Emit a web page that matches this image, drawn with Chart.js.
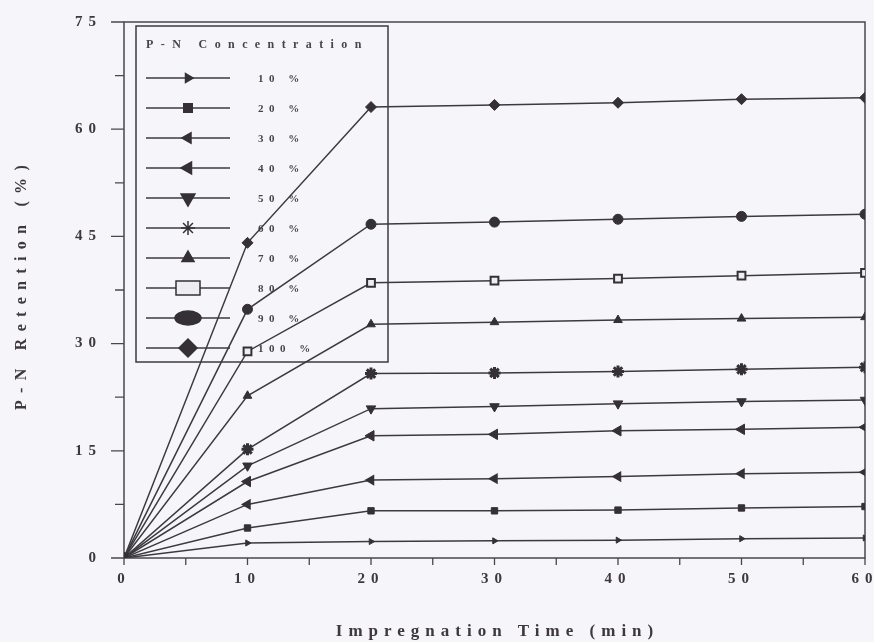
<!DOCTYPE html>
<html>
<head>
<meta charset="utf-8">
<script src="https://cdn.jsdelivr.net/npm/chart.js@4.4.1/dist/chart.umd.min.js"></script>
<style>
  html, body { margin: 0; padding: 0; background: #f6f6fa; }
  #wrap { width: 874px; height: 642px; }
</style>
</head>
<body>
<div id="wrap"><canvas id="c" width="874" height="642"></canvas></div>
<script>
// Impregnation time (min)
const times = [0, 10, 20, 30, 40, 50, 60];

// P-N retention (%) for each P-N concentration
const conc10  = [0, 2.1, 2.3, 2.4, 2.5, 2.7, 2.8];
const conc20  = [0, 4.2, 6.6, 6.6, 6.7, 7.0, 7.2];
const conc30  = [0, 7.5, 10.9, 11.1, 11.4, 11.8, 12.0];
const conc40  = [0, 10.7, 17.1, 17.3, 17.8, 18.0, 18.3];
const conc50  = [0, 12.9, 20.9, 21.2, 21.6, 21.9, 22.1];
const conc60  = [0, 15.2, 25.8, 25.9, 26.1, 26.4, 26.7];
const conc70  = [0, 22.7, 32.7, 33.0, 33.3, 33.5, 33.7];
const conc80  = [0, 28.9, 38.5, 38.8, 39.1, 39.5, 39.9];
const conc90  = [0, 34.8, 46.7, 47.0, 47.4, 47.8, 48.1];
const conc100 = [0, 44.1, 63.1, 63.4, 63.7, 64.2, 64.4];

const seriesLabels = ['10 %', '20 %', '30 %', '40 %', '50 %', '60 %', '70 %', '80 %', '90 %', '100 %'];
const seriesValues = [conc10, conc20, conc30, conc40, conc50, conc60, conc70, conc80, conc90, conc100];

const xTicks = [0, 10, 20, 30, 40, 50, 60];
const yTicks = [0, 15, 30, 45, 60, 75];

const legendTitle = 'P-N Concentration';
const xTitle = 'Impregnation Time (min)';
const yTitle = 'P-N Retention (%)';

const INK = '#353035';
const LINE = '#3c3a3e';
const SERIF = '"Liberation Serif", "DejaVu Serif", serif';

// marker look per series: plot marker and larger legend marker
const markerStyles = [
  { style: 'triangle', rot: 90,  r: 3.5, bw: 1, lr: 5,  lw: 0 },
  { style: 'rect',     rot: 0,   r: 4.5, bw: 1, lr: 6,  lw: 0 },
  { style: 'triangle', rot: 270, r: 4.5, bw: 2, lr: 6,  lw: 0 },
  { style: 'triangle', rot: 270, r: 6,   bw: 1, lr: 7,  lw: 0 },
  { style: 'triangle', rot: 180, r: 5.5, bw: 1, lr: 8,  lw: 0 },
  { style: 'star',     rot: 0,   r: 6,   bw: 3, lr: 7,  lw: 0 },
  { style: 'triangle', rot: 0,   r: 5,   bw: 1, lr: 7,  lw: 0 },
  { style: 'rect',     rot: 0,   r: 5.5, bw: 2, lr: 10, lw: 24, open: true },
  { style: 'circle',   rot: 0,   r: 5,   bw: 1, lr: 7,  lw: 26 },
  { style: 'rectRot',  rot: 0,   r: 5.5, bw: 1, lr: 9,  lw: 0 }
];

const datasets = seriesValues.map((vals, i) => {
  const m = markerStyles[i];
  return {
    label: seriesLabels[i],
    data: times.map((t, k) => ({ x: t, y: vals[k] })),
    borderColor: LINE,
    borderWidth: 1.5,
    backgroundColor: INK,
    pointStyle: m.style,
    pointRotation: m.rot,
    pointRadius: m.r,
    pointHoverRadius: m.r,
    pointBorderWidth: m.bw,
    pointBorderColor: INK,
    pointBackgroundColor: m.open ? '#eeeef2' : INK,
    tension: 0
  };
});

const spaced = (ctx, px) => { if ('letterSpacing' in ctx) ctx.letterSpacing = px + 'px'; };

// background, frame, tick marks, axis titles and the boxed legend
const decor = {
  id: 'decor',
  beforeDraw(chart) {
    const ctx = chart.ctx;
    ctx.save();
    ctx.fillStyle = '#f6f6fa';
    ctx.fillRect(0, 0, chart.width, chart.height);
    ctx.restore();
    spaced(ctx, 6);
  },
  beforeDatasetsDraw(chart) {
    const ctx = chart.ctx;
    spaced(ctx, 0);
    const { left, right, top, bottom } = chart.chartArea;
    const xs = chart.scales.x, ys = chart.scales.y;
    ctx.save();
    ctx.strokeStyle = '#4a464c';
    ctx.lineWidth = 1.5;
    ctx.strokeRect(left, top, right - left, bottom - top);
    ctx.lineWidth = 1.3;
    ctx.beginPath();
    for (let v = 0; v <= 60; v += 5) {
      const px = xs.getPixelForValue(v);
      ctx.moveTo(px, bottom); ctx.lineTo(px, bottom + 7);
    }
    for (let v = 0; v <= 75; v += 7.5) {
      const py = ys.getPixelForValue(v);
      const major = Math.abs(v % 15) < 1e-6;
      ctx.moveTo(left, py); ctx.lineTo(left - (major ? 13 : 9), py);
    }
    ctx.stroke();

    // legend box
    const lx = 136, ly = 26, lw = 252, lh = 336;
    ctx.lineWidth = 1.5;
    ctx.strokeStyle = '#3e3a40';
    ctx.strokeRect(lx, ly, lw, lh);
    ctx.fillStyle = '#4a4448';
    ctx.font = 'bold 12px ' + SERIF;
    ctx.textBaseline = 'alphabetic';
    ctx.textAlign = 'left';
    spaced(ctx, 7.4);
    ctx.fillText(legendTitle, 146, 48);
    ctx.font = 'bold 11px ' + SERIF;
    spaced(ctx, 5.5);
    chart.data.datasets.forEach((ds, i) => {
      const m = markerStyles[i];
      const cy = 78 + i * 30;
      ctx.strokeStyle = LINE;
      ctx.lineWidth = 1.5;
      ctx.beginPath();
      ctx.moveTo(146, cy); ctx.lineTo(230, cy);
      ctx.stroke();
      ctx.fillStyle = m.open ? '#eeeef2' : INK;
      ctx.strokeStyle = INK;
      Chart.helpers.drawPointLegend(ctx, {
        pointStyle: m.style,
        rotation: m.rot,
        radius: m.lr,
        borderWidth: m.open ? 3 : (m.style === 'star' ? 3.5 : 1)
      }, 188, cy, m.lw);
      ctx.fillStyle = '#4a4448';
      ctx.textBaseline = 'middle';
      ctx.fillText(ds.label, 258, cy + 1);
    });
    spaced(ctx, 0);
    ctx.restore();
  },
  afterDraw(chart) {
    const ctx = chart.ctx;
    const { left, right, top, bottom } = chart.chartArea;
    ctx.save();
    ctx.fillStyle = '#3e383c';
    ctx.textAlign = 'center';
    ctx.textBaseline = 'middle';
    ctx.font = 'bold 17px ' + SERIF;
    spaced(ctx, 6);
    ctx.fillText(xTitle, (left + right) / 2 + 3, 632);
    ctx.translate(22, (top + bottom) / 2 - 3);
    ctx.rotate(-Math.PI / 2);
    ctx.font = 'bold 16px ' + SERIF;
    spaced(ctx, 7.3);
    ctx.fillText(yTitle, 3, 0);
    spaced(ctx, 0);
    ctx.restore();
  }
};

new Chart(document.getElementById('c'), {
  type: 'line',
  data: { datasets },
  options: {
    responsive: false,
    animation: false,
    events: [],
    layout: { padding: { top: 22, right: 9, left: 0, bottom: 0 } },
    plugins: { legend: { display: false }, tooltip: { enabled: false } },
    scales: {
      x: {
        type: 'linear',
        min: 0, max: 60,
        afterBuildTicks: s => { s.ticks = xTicks.map(v => ({ value: v })); },
        afterFit: s => { s.height = 84; s.paddingLeft = 0; s.paddingRight = 0; },
        grid: { display: true, drawOnChartArea: false, drawTicks: false, color: 'rgba(0,0,0,0)' },
        border: { display: false },
        ticks: {
          padding: 12,
          color: '#3e383c',
          maxRotation: 0,
          font: { family: SERIF, size: 15, weight: 'bold' }
        }
      },
      y: {
        type: 'linear',
        min: 0, max: 75,
        afterBuildTicks: s => { s.ticks = yTicks.map(v => ({ value: v })); },
        afterFit: s => { s.width = 124; s.paddingTop = 0; s.paddingBottom = 0; },
        grid: { display: true, drawOnChartArea: false, drawTicks: false, color: 'rgba(0,0,0,0)' },
        border: { display: false },
        ticks: {
          padding: 22,
          color: '#3e383c',
          font: { family: SERIF, size: 15, weight: 'bold' }
        }
      }
    }
  },
  plugins: [decor]
});
</script>
</body>
</html>
